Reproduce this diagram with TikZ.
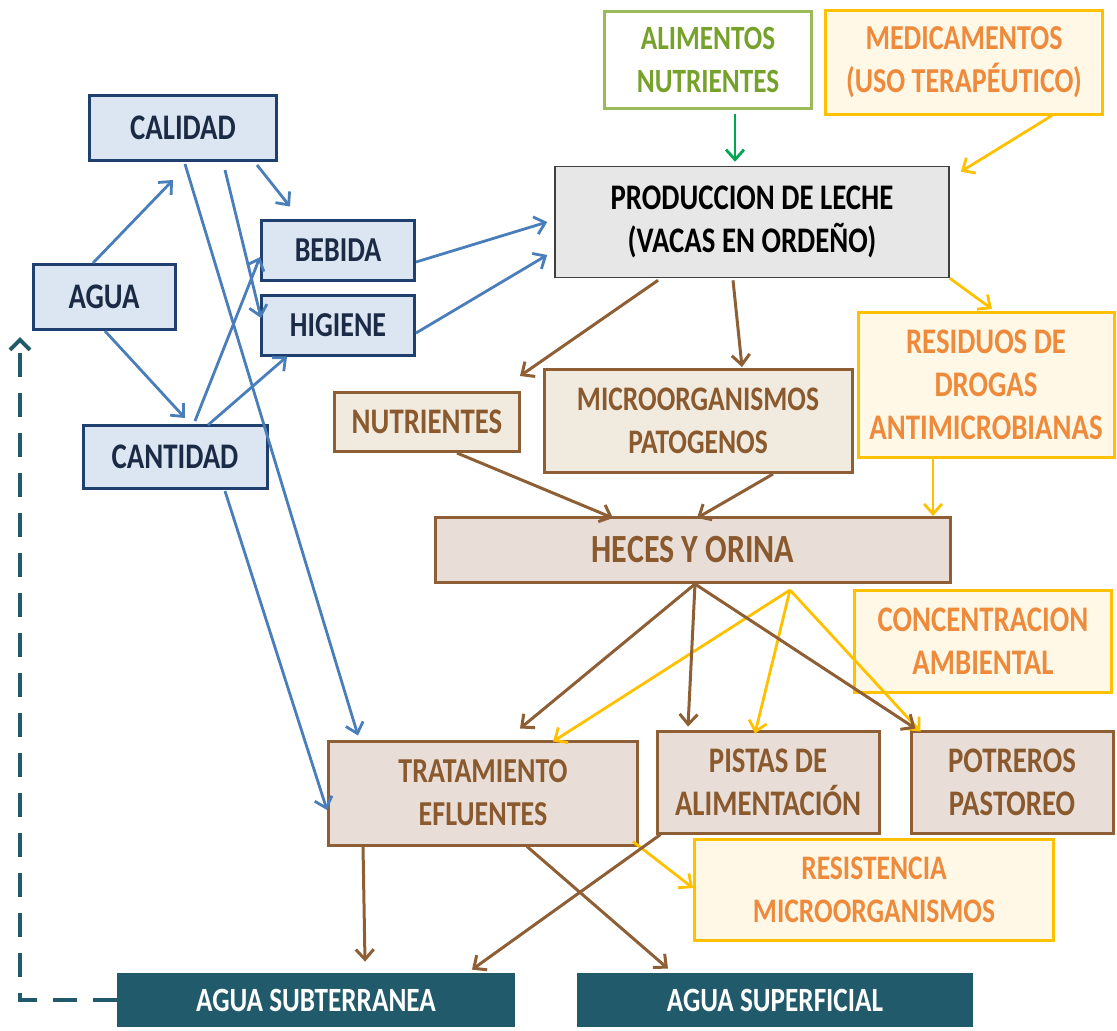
\documentclass[tikz,border=0pt]{standalone}
\usepackage{fontspec}
\setmainfont{Carlito}[FakeStretch=0.8]
\usepackage{tikz}
\usetikzlibrary{arrows.meta, calc}

\definecolor{bluefill}{HTML}{DCE6F2}
\definecolor{bluedraw}{HTML}{1F3F6E}
\definecolor{bluetext}{HTML}{1C2B45}
\definecolor{blueline}{HTML}{4A7EBB}
\definecolor{brownfill}{HTML}{E8DED7}
\definecolor{brownpale}{HTML}{F0EADF}
\definecolor{browndraw}{HTML}{8E5F35}
\definecolor{browntext}{HTML}{8A5A2E}
\definecolor{yeldraw}{HTML}{FFC000}
\definecolor{yelfill}{HTML}{FFF8E6}
\definecolor{orangetext}{HTML}{EE8A3C}
\definecolor{greendraw}{HTML}{9BBB59}
\definecolor{greentext}{HTML}{76A12B}
\definecolor{greenline}{HTML}{00A651}
\definecolor{tealfill}{HTML}{215B6B}
\definecolor{prodfill}{HTML}{E7E7E7}

\newcommand\boxfont[1]{\fontsize{#1}{21.5}\selectfont\bfseries}

\tikzset{
  ->,
  >={Straight Barb[length=5pt,width=9pt]},
  every node/.style={inner sep=0pt, align=center, font=\boxfont{18}},
  bluebox/.style={draw=bluedraw, fill=bluefill, line width=1.5pt, text=bluetext},
  brownbox/.style={draw=browndraw, fill=brownfill, line width=1.5pt, text=browntext},
  yelbox/.style={draw=yeldraw, fill=yelfill, line width=1.5pt, text=orangetext},
  greenbox/.style={draw=greendraw, fill=white, line width=1.5pt, text=greentext},
  tealbox/.style={fill=tealfill, text=white},
  bluearr/.style={draw=blueline, line width=1.4pt},
  brownarr/.style={draw=browndraw, line width=1.5pt},
  yelarr/.style={draw=yeldraw, line width=1.4pt},
  greenarr/.style={draw=greenline, line width=1.4pt},
  dasharr/.style={draw=tealfill, line width=2pt, dash pattern=on 12pt off 8pt,
    >={Straight Barb[length=5pt,width=10pt]}}
}

\begin{document}
\begin{tikzpicture}[x=0.5pt,y=-0.5pt]
  \useasboundingbox (0,0) rectangle (1117,1030);

  % agua
  \node[bluebox, minimum width=93.5pt, minimum height=32.5pt] (cal) at (183,128) {CALIDAD};
  \node[bluebox, minimum width=71pt, minimum height=32.5pt] (agua) at (104,297) {AGUA};
  \node[bluebox, minimum width=76.5pt, minimum height=30pt, font=\boxfont{17.5}] (beb) at (338,250) {BEBIDA};
  \node[bluebox, minimum width=76.5pt, minimum height=30pt, font=\boxfont{17.5}] (hig) at (338,325) {HIGIENE};
  \node[bluebox, minimum width=92pt, minimum height=31.5pt] (cant) at (175,457) {CANTIDAD};

  % produccion
  \node[greenbox, minimum width=103.5pt, minimum height=48.5pt, font=\boxfont{17}] (alim) at (708,60) {ALIMENTOS\\NUTRIENTES};
  \node[yelbox, minimum width=138.5pt, minimum height=52pt, font=\boxfont{17.5}] (med) at (964,62) {MEDICAMENTOS\\(USO TERAPÉUTICO)};
  \node[draw=black!75, fill=prodfill, line width=0.8pt, minimum width=197pt, minimum height=55.5pt] (prod) at (752,222) {PRODUCCION DE LECHE\\(VACAS EN ORDEÑO)};

  % residuos
  \node[brownbox, fill=brownpale, minimum width=92.5pt, minimum height=29.5pt] (nut) at (427,422) {NUTRIENTES};
  \node[brownbox, fill=brownpale, minimum width=154pt, minimum height=51.5pt, font=\boxfont{17.2}] (micro) at (698,421) {MICROORGANISMOS\\PATOGENOS};
  \node[yelbox, minimum width=128pt, minimum height=72.5pt] (res) at (986,385) {RESIDUOS DE\\DROGAS\\ANTIMICROBIANAS};
  \node[brownbox, minimum width=257.5pt, minimum height=32.5pt, font=\boxfont{20}] (heces) at (693,550) {HECES Y ORINA};
  \node[yelbox, minimum width=128.5pt, minimum height=51pt] (conc) at (983,641) {CONCENTRACION\\AMBIENTAL};

  % destinos
  \node[brownbox, minimum width=154.5pt, minimum height=52pt, font=\boxfont{17.5}] (trat) at (483,793) {TRATAMIENTO\\EFLUENTES};
  \node[brownbox, minimum width=111pt, minimum height=51pt] (pist) at (768,782) {PISTAS DE\\ALIMENTACIÓN};
  \node[brownbox, minimum width=101pt, minimum height=51pt] (potr) at (1012,782) {POTREROS\\PASTOREO};
  \node[yelbox, minimum width=179.5pt, minimum height=50.5pt, font=\boxfont{17.2}] (resis) at (874,890) {RESISTENCIA\\MICROORGANISMOS};
  \node[tealbox, minimum width=199pt, minimum height=27pt, font=\boxfont{17}] (sub) at (316,1000) {AGUA SUBTERRANEA};
  \node[tealbox, minimum width=198pt, minimum height=27pt, font=\boxfont{17}] (sup) at (775,1000) {AGUA SUPERFICIAL};

  \coordinate (yf) at ($(heces.south)+(97,6)$);
  \coordinate (fb) at (20,337);

  % flechas azules
  \draw[bluearr] ($(agua.north)+(-11,0)$) -- ($(cal.south)+(-10,18)$);
  \draw[bluearr] ($(agua.south)+(1,0)$) -- ($(cant.north)+(10,-6)$);
  \draw[bluearr] ($(cal.south east)+(-21,3)$) -- ($(beb.north)+(-48,-12)$);
  \draw[bluearr] ($(cal.south)+(42,8)$) -- ($(hig.west)+(1,-7)$);
  \draw[bluearr] ($(cal.south)+(2,2)$) -- ($(trat.north west)+(31,-4)$);
  \draw[bluearr] ($(cant.north)+(20,-3)$) -- ($(beb.west)+(0,7)$);
  \draw[bluearr] ($(cant.north)+(33,1)$) -- ($(hig.south)+(-51,0)$);
  \draw[bluearr] ($(cant.south)+(50,1)$) -- ($(trat.west)+(0,17)$);
  \draw[bluearr] ($(beb.east)+(0,12)$) -- ($(prod.west)+(-7,0)$);
  \draw[bluearr] ($(hig.east)+(0,8)$) -- ($(prod.west)+(-7,33)$);

  \draw[greenarr] ($(alim.south)+(27,4)$) -- ($(prod.north)+(-17,-4)$);

  % flechas amarillas
  \draw[yelarr] ($(med.south)+(88,0)$) -- ($(prod.north east)+(11,6)$);
  \draw[yelarr] (prod.south east) -- ($(res.north)+(6,-2)$);
  \draw[yelarr] ($(res.south)+(-53,0)$) -- ($(heces.north)+(240,0)$);
  \draw[yelarr] (yf) -- ($(trat.north)+(70,2)$);
  \draw[yelarr] (yf) -- ($(pist.north)+(-13,4)$);
  \draw[yelarr] (yf) -- ($(potr.north west)+(11,2)$);
  \draw[yelarr] ($(trat.south east)+(-6,-5)$) -- ($(resis.west)+(0,-2)$);

  % flechas cafe
  \draw[brownarr] ($(prod.south)+(-94,2)$) -- ($(nut.north east)+(-1,-15)$);
  \draw[brownarr] ($(prod.south)+(-19,2)$) -- ($(micro.north)+(44,-1)$);
  \draw[brownarr] ($(nut.south)+(30,0)$) -- ($(heces.north)+(-80,2)$);
  \draw[brownarr] ($(micro.south)+(75,0)$) -- ($(heces.north)+(4,2)$);
  \draw[brownarr] ($(heces.south)+(2,0)$) -- ($(trat.north)+(37,-11)$);
  \draw[brownarr] ($(heces.south)+(2,0)$) -- ($(pist.north)+(-80,-3)$);
  \draw[brownarr] ($(heces.south)+(2,0)$) -- ($(potr.north west)+(6,-1)$);
  \draw[brownarr] ($(trat.south west)+(36,0)$) -- ($(sub.north)+(49,-11)$);
  \draw[brownarr] ($(pist.south west)+(5,0)$) -- ($(sub.north)+(156,-3)$);
  \draw[brownarr] ($(trat.south)+(44,0)$) -- ($(sup.north)+(-107,-4)$);

  \draw[dasharr] (sub.west) -| (fb);
\end{tikzpicture}
\end{document}
